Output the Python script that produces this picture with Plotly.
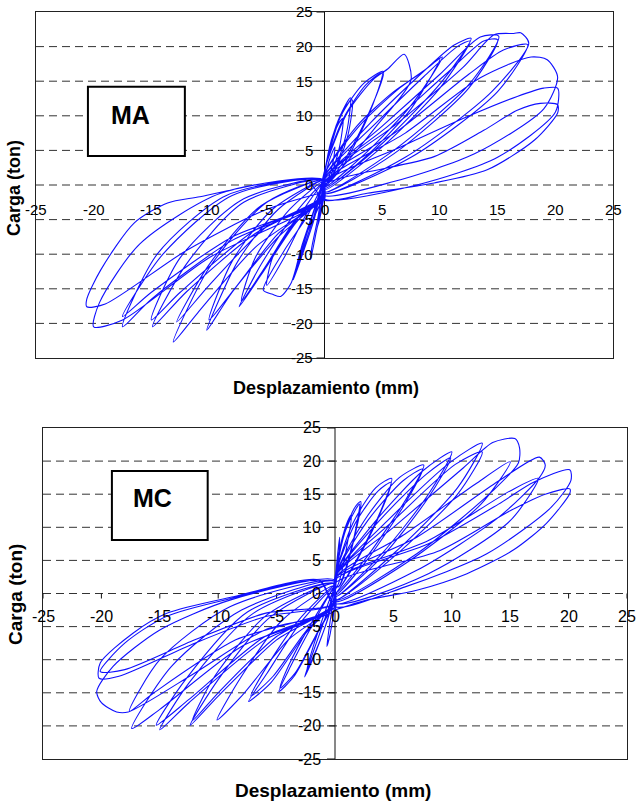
import plotly.graph_objects as go

# ---------------- data ----------------
# Each petal: list of (displacement mm, load ton) key points, from origin -> peak -> origin
ma_pos_petals = [
    [(0, 0.5), (0.4, 3.5), (0.9, 5.5), (0.7, 3), (0.1, 0)],
    [(0, 1), (0.5, 5.5), (1.2, 8.8), (1.6, 9.6), (1.3, 5.5), (0.4, 0.8)],
    [(0, 1.5), (0.6, 6.5), (1.5, 10.5), (2.25, 12.6), (1.9, 7.5), (0.6, 1.2)],
    [(0, 1.8), (0.7, 7), (1.6, 10.8), (2.4, 12.3), (2.0, 7), (0.5, 0.8)],
    [(0, 2), (1.4, 9.9), (3.4, 14.7), (5.1, 16.4), (3.6, 9.5), (1.5, 3), (0, 0)],
    [(0, 2), (1.6, 9.5), (3.6, 14.5), (5.0, 16.2), (3.8, 10), (1.5, 2.5), (0, -0.2)],
    [(0, 2), (2, 10.5), (4.2, 15.2), (5.5, 16.8), (6.9, 18.9), (7.5, 15.2), (4.5, 8.5), (1.5, 2.5), (0, 0)],
    [(0, 1.5), (2.8, 8.5), (6, 13.5), (8.3, 16.1), (10.2, 18.5), (7.5, 11.5), (3.5, 4.5), (0, -0.3)],
    [(0, 1.5), (3, 8.5), (6.5, 14), (9, 17), (10, 18.3), (7.5, 11), (3.5, 4), (0, -0.5)],
    [(0, 1.2), (4, 9), (8, 15.5), (11.2, 20.2), (12.7, 21.2), (10.2, 15), (5, 6), (0, -0.5)],
    [(0, 1.2), (4.5, 9), (8.5, 15.5), (11.5, 20), (12.6, 20.8), (10, 14), (5, 5.5), (0, -0.7)],
    [(0, 1), (5, 8.5), (10, 16), (13.5, 21.4), (15.1, 21.5), (12.5, 14.5), (6, 5), (0, -1)],
    [(0, 1), (5.5, 8.5), (10.5, 16), (13.8, 20.8), (15, 21), (12.5, 14), (6, 4.5), (0, -1)],
    [(0, 1), (6, 8.5), (12, 17), (14.7, 21.7), (16.4, 21.9), (17.0, 22.0), (17.7, 20.5), (14.5, 13.5), (7, 4), (0, -1.2)],
    [(0, 0.8), (6.5, 8), (12.5, 16), (15.5, 19.5), (17.6, 20.3), (15, 13.5), (7.5, 4), (0, -1.2)],
    [(0, 0.5), (7, 7.5), (13.5, 15.5), (17.9, 18.5), (19.3, 18.1), (20.2, 15.6), (19, 11), (13, 4.5), (6, 0.5), (0, -1.5)],
    [(0, 0.3), (6.6, 5.5), (12.4, 9.9), (16.7, 12.8), (19, 14.0), (20.2, 14.0), (20, 10.5), (15, 4), (8, 0), (0, -2)],
    [(0, 0), (9.5, 4.1), (13.8, 7.9), (16.7, 10.8), (18.7, 11.8), (20.2, 11.6), (20.2, 10.4), (18.2, 6.5), (14.1, 2.2), (9.5, 0.3), (3.7, -1.2), (0, -2.2)],
]
ma_neg_petals = [
    [(0, 0), (-0.3, -3), (-0.6, -6), (-0.3, -4), (0, -1)],
    [(0, 0.3), (-0.6, -5), (-1.1, -9), (-1.2, -10.8), (-0.8, -7.5), (-0.2, -2.5)],
    [(0, 0.5), (-0.9, -5), (-1.8, -9.5), (-2.7, -13.7), (-2.0, -9), (-0.6, -2)],
    [(0, 0.5), (-1.0, -5), (-2.0, -10), (-2.6, -13), (-1.8, -8.5), (-0.5, -1.5)],
    [(0, 0.5), (-1.5, -4.5), (-3.5, -9.5), (-5.3, -15.2), (-4.5, -15.8), (-3.8, -16.1), (-2.9, -14.2), (-1.8, -8), (0, -1)],
    [(0, 0.5), (-2, -4), (-4.5, -10.5), (-5, -14.5), (-3.5, -10.5), (-1.5, -4), (0, -0.8)],
    [(0, 0.5), (-2.5, -4), (-5.5, -11.5), (-7.4, -17.6), (-5.5, -13), (-2.5, -5.5), (0, -1)],
    [(0, 0.6), (-3, -3.5), (-6, -10.5), (-7.2, -16.8), (-5.2, -12), (-2.5, -5), (0, -1)],
    [(0, 0.7), (-4, -3.5), (-7.5, -11), (-10.2, -21), (-8, -15.5), (-4, -7.5), (0, -1.5)],
    [(0, 0.7), (-4.5, -3.5), (-8, -11), (-10, -19.5), (-7.8, -15), (-4, -7), (0, -1.5)],
    [(0, 0.7), (-5.5, -3), (-10, -11.5), (-12.8, -19.8), (-10, -14.5), (-5, -6), (0, -1.5)],
    [(0, 0.7), (-5, -2.5), (-10, -12), (-13.1, -22.7), (-11, -18.5), (-6, -9), (0, -1.5)],
    [(0, 0.7), (-7, -2.5), (-12, -11.5), (-14.9, -20.5), (-12, -15.5), (-6, -7), (0, -1.5)],
    [(0, 0.7), (-7, -2), (-12.5, -10.5), (-15, -19.5), (-12.5, -15.5), (-6, -6.5), (0, -1.8)],
    [(0, 0.7), (-8, -1.5), (-14, -10), (-17.5, -19), (-15, -15.5), (-8, -7.5), (0, -2)],
    [(0, 0.7), (-8.5, -1.5), (-14.5, -10), (-17.5, -20.5), (-15, -16.5), (-8, -8), (0, -2)],
    [(0, 0.7), (-9, -1.2), (-16, -8.5), (-19.5, -17), (-20, -20.5), (-17.5, -19.5), (-10, -10.5), (0, -2)],
    [(-1.5, 0.7), (-5, 0.3), (-10.8, -1.7), (-13.6, -2.6), (-16.5, -5.5), (-19.4, -12.3), (-20.6, -16.5), (-20.6, -17.6), (-19, -17.2), (-12, -9.5), (-5, -3.5), (0, -1)],
]

mc_pos_petals = [
    [(0, 1.5), (0.2, 5.5), (0.4, 8.5), (0.3, 4.5), (0, 0.5)],
    [(0, 2), (0.5, 7.5), (1.1, 11), (1.4, 11.9), (1.0, 7), (0.3, 1.5)],
    [(0, 2.5), (0.8, 9), (1.7, 13), (2.2, 13.9), (1.6, 8), (0.4, 1.2)],
    [(0, 2.5), (0.9, 9.5), (1.8, 12.8), (2.1, 13.5), (1.5, 7.5), (0.3, 1)],
    [(0, 2.5), (1.5, 10.5), (3.5, 16), (4.85, 17.4), (3.8, 12), (1.5, 4), (0, 0)],
    [(0, 2.5), (1.7, 10.5), (3.7, 15.5), (4.8, 16.8), (3.6, 11), (1.4, 3.5), (0, 0)],
    [(0, 2.5), (2.5, 11), (5.5, 17.5), (7.6, 19.4), (6, 14), (2.5, 5), (0, 0)],
    [(0, 2.5), (2.8, 11), (5.8, 17), (7.5, 18.8), (5.8, 13), (2.5, 4.5), (0, -0.3)],
    [(0, 2.5), (3.5, 11), (7.5, 18.5), (10, 21.4), (8, 15), (4, 6), (0, -0.5)],
    [(0, 2.5), (3.8, 11), (7.8, 18), (9.9, 20.5), (8, 14.5), (4, 5.5), (0, -0.5)],
    [(0, 2.5), (4.5, 11), (10, 20), (12.6, 22.7), (10.5, 16), (5, 6), (0, -1)],
    [(0, 2.5), (5, 11), (10.3, 19.5), (12.6, 21.4), (10.5, 15), (5, 5.5), (0, -1)],
    [(0, 2.5), (5, 10), (11, 19), (13.5, 22.8), (15.4, 23.4), (15.8, 22), (15.7, 19.7), (13.5, 15.5), (7, 6), (0, -1)],
    [(0, 2.3), (6, 9), (12, 16.5), (15, 19.9), (12.5, 13.5), (6, 4.5), (0, -1.2)],
    [(0, 2.2), (7, 8.5), (14, 17), (17.5, 20.6), (18, 19.4), (17.5, 17.5), (14, 11.5), (7, 3.5), (0, -1.5)],
    [(0, 2), (8, 8), (15, 15.5), (17.4, 17.4), (15, 11), (8, 3), (0, -1.5)],
    [(0, 2), (8, 7.5), (14, 13.5), (17, 16.8), (20.1, 18.7), (20.2, 17.1), (18.5, 13), (13, 6), (6, 1), (0, -2)],
    [(0, 1.5), (9, 6.5), (15, 12.5), (18, 15), (20.1, 15.8), (20.1, 15.1), (18.1, 10.6), (15.3, 6.6), (11.3, 3), (7, 0.5), (2.7, -1), (0, -2.5)],
]
mc_neg_petals = [
    [(0, 0.5), (-0.4, -4), (-0.7, -8), (-0.4, -6), (0, -1)],
    [(0, 0.5), (-1.2, -5.5), (-2.2, -10.5), (-2.6, -12.6), (-1.8, -9.5), (-0.5, -3)],
    [(0, 0.8), (-1.3, -5), (-2.2, -10), (-2.4, -11.5), (-1.6, -8.5), (-0.4, -2.5)],
    [(0, 1), (-2, -5), (-3.8, -11), (-4.8, -14.8), (-3.5, -12.5), (-1.5, -6), (0, -1)],
    [(0, 1), (-2.2, -5), (-4, -11), (-4.7, -14.3), (-3.4, -12), (-1.4, -5.5), (0, -1)],
    [(0, 1), (-3, -4.5), (-5.8, -12), (-7.4, -16.3), (-5.5, -13.5), (-2.5, -6), (0, -1)],
    [(0, 1.2), (-3.2, -4.2), (-6, -11.5), (-7.2, -15.5), (-5.3, -12.5), (-2.4, -5.5), (0, -1.2)],
    [(0, 1.2), (-4.5, -4), (-8, -12.5), (-10.1, -19.1), (-8, -15.5), (-4, -7), (0, -1.5)],
    [(0, 1.5), (-5.5, -3.5), (-10, -13), (-12.4, -19.9), (-10, -15.5), (-5, -7), (0, -1.5)],
    [(0, 1.5), (-5.8, -3.2), (-10.3, -12.5), (-12.2, -19.2), (-10, -15), (-5, -6.5), (0, -1.5)],
    [(0, 1.5), (-7, -3), (-12.5, -13.5), (-15, -20.6), (-12.5, -16.5), (-6, -7), (0, -2)],
    [(0, 1.5), (-7.5, -2.8), (-12.8, -13), (-15.3, -19.9), (-12.5, -16), (-6, -6.5), (0, -2)],
    [(0, 1.8), (-8, -2.5), (-14, -11), (-17.4, -20.4), (-15, -17.5), (-8, -8), (0, -2)],
    [(0, 1.8), (-9, -2), (-15, -10), (-17.6, -17.8), (-15.5, -15), (-8.5, -7), (0, -2)],
    [(0, 2), (-9, -1), (-15, -5.5), (-19, -11), (-20.4, -14.8), (-20, -16.5), (-18.7, -17.9), (-17.7, -17.9), (-12, -12), (-6, -5.5), (0, -2.5)],
    [(-1.3, 2), (-8.7, -0.5), (-14.4, -3), (-17.3, -6), (-20.1, -10.5), (-20.2, -12.8), (-18.5, -12.5), (-12, -7.5), (-6, -3.5), (0, -1.5)],
    [(-1.3, 1.8), (-9, -0.8), (-14.5, -3.5), (-18, -7.5), (-20.1, -11.8), (-18, -11.5), (-12, -7), (-6, -3), (0, -1.5)],
]

tick_values = [-25, -20, -15, -10, -5, 0, 5, 10, 15, 20, 25]
grid_values = [-20, -15, -10, -5, 0, 5, 10, 15, 20]
x_title = "Desplazamiento (mm)"
y_title = "Carga (ton)"
panel_labels = ["MA", "MC"]

FONT = "Liberation Sans, Arial, sans-serif"
BLUE = "#1010ff"


def build_path(pos, neg):
    xs, ys = [], []
    n = max(len(pos), len(neg))
    for i in range(n):
        for group in (pos, neg):
            if i < len(group):
                for px, py in group[i]:
                    xs.append(px)
                    ys.append(py)
    return xs, ys


fig = go.Figure()
for (pos, neg), xa, ya in [((ma_pos_petals, ma_neg_petals), "x", "y"),
                           ((mc_pos_petals, mc_neg_petals), "x2", "y2")]:
    xs, ys = build_path(pos, neg)
    fig.add_trace(go.Scatter(x=xs, y=ys, mode="lines", xaxis=xa, yaxis=ya,
                             line=dict(color=BLUE, width=1.1, shape="spline", smoothing=0.75),
                             hoverinfo="skip", showlegend=False))

W, H = 636, 805


def fx(p):
    return p / W


def fy(p):
    return 1 - p / H


panels = [
    dict(xa="x", ya="y", xd=[fx(36), fx(613)], yd=[fy(358), fy(12)],
         xshift_lab=-25, yshift_lab=-10, fs=15, tfs=18,
         xt=(fx(326), fy(388)), yt=(fx(14), fy(188)),
         box=(-20.5, -12.1, 4.2, 14.2), lab=(-16.8, 10.1), xticks=False),
    dict(xa="x2", ya="y2", xd=[fx(43), fx(627)], yd=[fy(759), fy(428)],
         xshift_lab=-23, yshift_lab=-12, fs=16, tfs=19,
         xt=(fx(333), fy(790)), yt=(fx(15), fy(595)),
         box=(-19.1, -10.9, 8.1, 18.5), lab=(-15.6, 14.4), xticks=True),
]

layout_axes = {}
shapes = []
annotations = []
for i, p in enumerate(panels):
    xkey = "xaxis" if p["xa"] == "x" else "xaxis2"
    ykey = "yaxis" if p["ya"] == "y" else "yaxis2"
    common = dict(range=[-25, 25], showgrid=False, zeroline=False, showticklabels=False,
                  ticks="", showline=True, mirror=True, linecolor="#222", linewidth=1,
                  fixedrange=True)
    layout_axes[xkey] = dict(domain=p["xd"], anchor=p["ya"], **common)
    layout_axes[ykey] = dict(domain=p["yd"], anchor=p["xa"], **common)

    for g in grid_values:
        shapes.append(dict(type="line", xref=p["xa"], yref=p["ya"], x0=-25, x1=25, y0=g, y1=g,
                           line=dict(color="#333", width=1, dash="8px,5px"), layer="below"))
    shapes.append(dict(type="line", xref=p["xa"], yref=p["ya"], x0=0, x1=0, y0=-25, y1=25,
                       line=dict(color="#111", width=1), layer="below"))
    for t in tick_values:
        shapes.append(dict(type="line", xref=p["xa"], yref=p["ya"], xsizemode="pixel", xanchor=0,
                           x0=-8, x1=0, y0=t, y1=t, line=dict(color="#111", width=1), layer="below"))
        if p["xticks"]:
            shapes.append(dict(type="line", xref=p["xa"], yref=p["ya"], ysizemode="pixel", yanchor=0,
                               y0=-5, y1=0, x0=t, x1=t, line=dict(color="#111", width=1), layer="below"))
        annotations.append(dict(x=t, y=0, xref=p["xa"], yref=p["ya"], text=str(t), showarrow=False,
                                xanchor="center", yanchor="middle", yshift=p["xshift_lab"],
                                font=dict(family=FONT, size=p["fs"], color="#000")))
        annotations.append(dict(x=0, y=t, xref=p["xa"], yref=p["ya"], text=str(t), showarrow=False,
                                xanchor="right", yanchor="middle", xshift=p["yshift_lab"],
                                font=dict(family=FONT, size=p["fs"], color="#000")))
    bx0, bx1, by0, by1 = p["box"]
    shapes.append(dict(type="rect", xref=p["xa"], yref=p["ya"], x0=bx0, x1=bx1, y0=by0, y1=by1,
                       line=dict(color="#000", width=2), fillcolor="white", layer="above"))
    annotations.append(dict(x=p["lab"][0], y=p["lab"][1], xref=p["xa"], yref=p["ya"],
                            text="<b>%s</b>" % panel_labels[i], showarrow=False,
                            font=dict(family=FONT, size=25, color="#000")))
    annotations.append(dict(x=p["xt"][0], y=p["xt"][1], xref="paper", yref="paper",
                            text="<b>%s</b>" % x_title, showarrow=False,
                            xanchor="center", yanchor="middle",
                            font=dict(family=FONT, size=p["tfs"], color="#000")))
    annotations.append(dict(x=p["yt"][0], y=p["yt"][1], xref="paper", yref="paper",
                            text="<b>%s</b>" % y_title, showarrow=False, textangle=-90,
                            xanchor="center", yanchor="middle",
                            font=dict(family=FONT, size=p["tfs"], color="#000")))

fig.update_layout(width=W, height=H, margin=dict(l=0, r=0, t=0, b=0),
                  paper_bgcolor="white", plot_bgcolor="white", showlegend=False,
                  shapes=shapes, annotations=annotations, **layout_axes)

# remove the default 8px page margin so the figure fills the 636x805 window exactly
fig.write_html("out.html", config={"displayModeBar": False, "staticPlot": True},
               post_script="document.body.style.margin='0';document.body.style.overflow='hidden';")
